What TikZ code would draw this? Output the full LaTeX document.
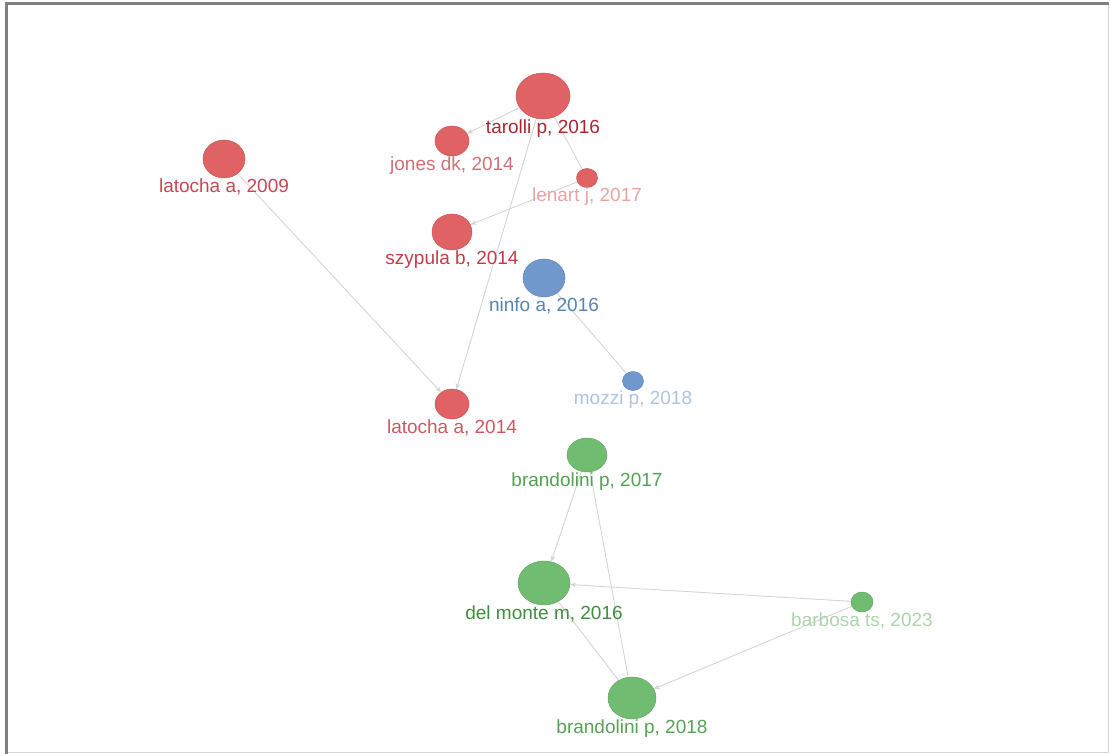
\documentclass[tikz,border=0pt]{standalone}
\usepackage{fontspec}
\setmainfont{Liberation Sans}
\usetikzlibrary{positioning,shapes.geometric,arrows.meta,backgrounds}

\definecolor{clusterRed}{RGB}{224,98,100}
\definecolor{clusterBlue}{RGB}{112,152,204}
\definecolor{clusterGreen}{RGB}{112,188,112}
\definecolor{lineGray}{RGB}{212,212,212}
\definecolor{frameGray}{RGB}{128,128,128}

\tikzset{
  paper/.style={ellipse, inner sep=0pt, fill=#1, draw=#1!88!black, line width=0.5pt},
  tag/.style={inner sep=0pt, font=\fontsize{19}{21}\selectfont},
  cite/.style={draw=lineGray, line width=0.9pt, -{Stealth[length=6pt,width=5pt]}},
  link/.style={draw=lineGray, line width=0.9pt},
}

\begin{document}
\begin{tikzpicture}[x=1pt,y=-1pt]
    \useasboundingbox (0,0) rectangle (1110,754);

    % frame
    \draw [lineGray, line width=1.2pt] (1108.5,3) -- (1108.5,752.5) -- (6,752.5);
    \draw [frameGray, line width=3pt] (6.5,754) -- (6.5,3.5) -- (1109,3.5);

    % red cluster
    \node [paper=clusterRed, minimum width=54, minimum height=46] (tarolli) at (543,96) {};
    \node [tag, text={rgb,255:red,168;green,38;blue,50}, below=0pt of tarolli] (tarolliL) {tarolli p, 2016};

    \node [paper=clusterRed, minimum width=34, minimum height=30] (jones) at (452,141) {};
    \node [tag, text={rgb,255:red,208;green,112;blue,118}, below=0pt of jones] (jonesL) {jones dk, 2014};

    \node [paper=clusterRed, minimum width=21, minimum height=19] (lenart) at (587,178) {};
    \node [tag, text={rgb,255:red,232;green,164;blue,164}, below=0pt of lenart] (lenartL) {lenart j, 2017};

    \node [paper=clusterRed, minimum width=42, minimum height=38] (latochaA) at (224,159) {};
    \node [tag, text={rgb,255:red,200;green,70;blue,82}, below=0pt of latochaA] (latochaAL) {latocha a, 2009};

    \node [paper=clusterRed, minimum width=40, minimum height=36] (szypula) at (452,232) {};
    \node [tag, text={rgb,255:red,196;green,60;blue,72}, below=0pt of szypula] (szypulaL) {szypula b, 2014};

    \node [paper=clusterRed, minimum width=34, minimum height=30] (latochaB) at (452,404) {};
    \node [tag, text={rgb,255:red,206;green,88;blue,98}, below=0pt of latochaB] (latochaBL) {latocha a, 2014};

    % blue cluster
    \node [paper=clusterBlue, minimum width=42, minimum height=38] (ninfo) at (544,278) {};
    \node [tag, text={rgb,255:red,86;green,132;blue,178}, below=0pt of ninfo] (ninfoL) {ninfo a, 2016};

    \node [paper=clusterBlue, minimum width=21, minimum height=19] (mozzi) at (633,381) {};
    \node [tag, text={rgb,255:red,172;green,196;blue,222}, below=0pt of mozzi] (mozziL) {mozzi p, 2018};

    % green cluster
    \node [paper=clusterGreen, minimum width=40, minimum height=34] (brandoliniA) at (587,455) {};
    \node [tag, text={rgb,255:red,82;green,162;blue,82}, below=0pt of brandoliniA] (brandoliniAL) {brandolini p, 2017};

    \node [paper=clusterGreen, minimum width=52, minimum height=44] (delmonte) at (544,583) {};
    \node [tag, text={rgb,255:red,62;green,142;blue,62}, below=0pt of delmonte] (delmonteL) {del monte m, 2016};

    \node [paper=clusterGreen, minimum width=22, minimum height=20] (barbosa) at (862,602) {};
    \node [tag, text={rgb,255:red,172;green,212;blue,172}, below=0pt of barbosa] (barbosaL) {barbosa ts, 2023};

    \node [paper=clusterGreen, minimum width=48, minimum height=42] (brandoliniB) at (632,698) {};
    \node [tag, text={rgb,255:red,86;green,162;blue,86}, below=0pt of brandoliniB] (brandoliniBL) {brandolini p, 2018};

    % links
    \begin{scope}[on background layer]
    \draw [cite] (tarolli) -- (jones);
    \draw [link] (tarolli) -- (lenart);
    \draw [cite] (tarolli) -- (latochaB);
    \draw [cite] (lenart) -- (szypula);
    \draw [cite] (latochaA) -- (latochaB);
    \draw [link] (ninfo) -- (mozzi);
    \draw [cite] (brandoliniA) -- (delmonte);
    \draw [link] (brandoliniA) -- (brandoliniB);
    \draw [link] (delmonte) -- (brandoliniB);
    \draw [cite] (barbosa) -- (delmonte);
    \draw [cite] (barbosa) -- (brandoliniB);
    \end{scope}
\end{tikzpicture}
\end{document}
